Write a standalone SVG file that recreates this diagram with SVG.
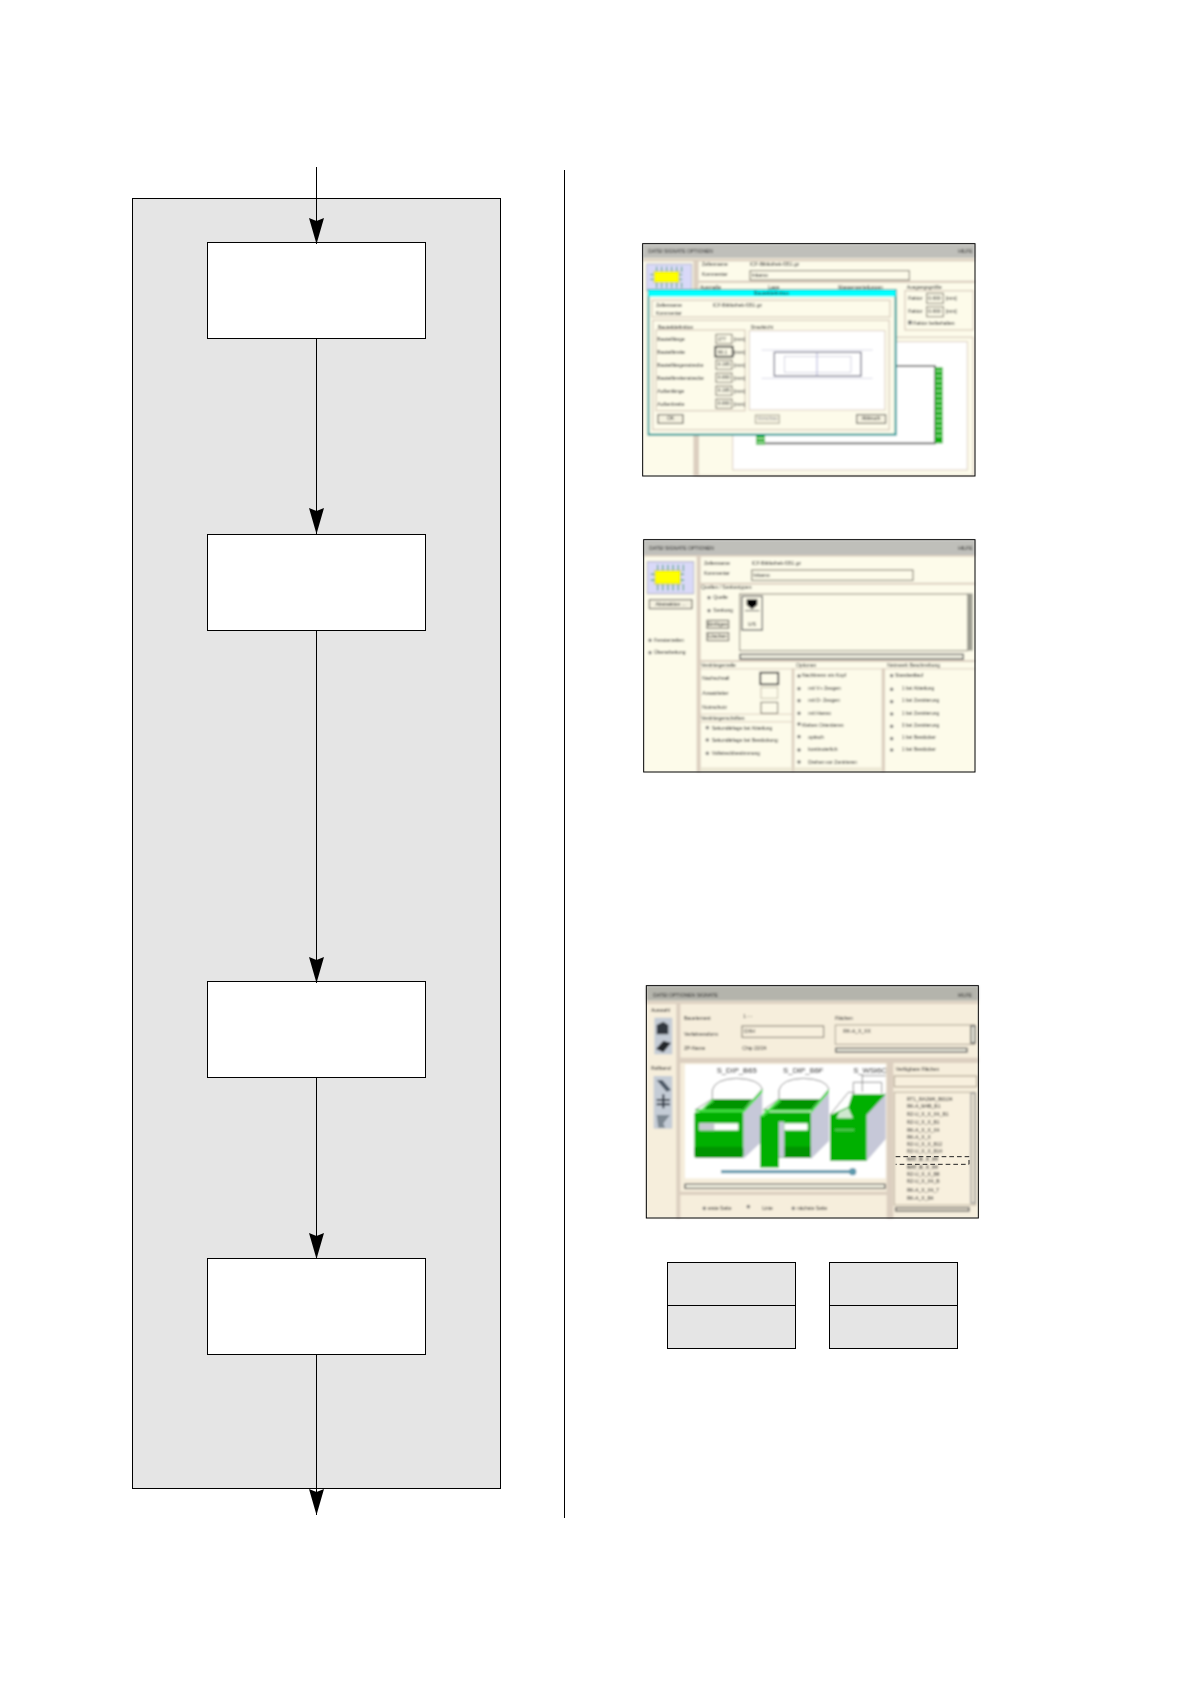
<svg xmlns="http://www.w3.org/2000/svg" width="1188" height="1684" viewBox="0 0 1188 1684">
<style>
.panel{fill:#e5e5e5;stroke:#000;stroke-width:1}
.box{fill:#fff;stroke:#000;stroke-width:1}
.line{fill:none;stroke:#000;stroke-width:1}
.arrow{fill:none;stroke:#000;stroke-width:1;marker-end:url(#head)}
.frame{fill:none;stroke:#000;stroke-width:3}
.t{font-family:"Liberation Sans",Arial,sans-serif;font-size:15px;fill:#1c1c1c}
.h{font-family:"Liberation Sans",Arial,sans-serif;font-size:23px;fill:#000;text-anchor:middle}
.sep{fill:#dccfc0}
.grp{fill:none;stroke:#dccfc0;stroke-width:4}
.in{fill:#fdfbea;stroke:#7a7468;stroke-width:3}
.btn{fill:#f4f1e0;stroke:#55524a;stroke-width:3}
.sb{fill:#efeee0;stroke:#555;stroke-width:4}
.pin{stroke:#2f9a6a;stroke-width:3;fill:none}
.r{fill:#999;stroke:#444;stroke-width:2}
.g1{fill:#00b000}
.g2{fill:#009400}
.g3{fill:#3fe03f}
.gs{fill:#c6c8d8}
.o{fill:#fff;stroke:#777;stroke-width:2.5}
.ol{fill:none;stroke:#777;stroke-width:2.5}
</style>
<defs>
<marker id="head" markerUnits="userSpaceOnUse" markerWidth="27" markerHeight="16" refX="26" refY="7.5" orient="auto"><path d="M26,7.5 L0,0 L3,7.5 L0,15 Z" fill="#000"/></marker>
<filter id="blur" x="-2%" y="-2%" width="104%" height="104%"><feGaussianBlur stdDeviation="2.6"/></filter>
<filter id="blur2" x="-2%" y="-2%" width="104%" height="104%"><feGaussianBlur stdDeviation="2.4"/></filter>
<g id="chip">
<rect x="0" y="0" width="135" height="80" fill="#d9d9f8" stroke="#b9b9cc" stroke-width="3"/>
<path class="pin" d="M30,8V24M45,8V24M60,8V24M75,8V24M90,8V24M105,8V24M30,56V72M45,56V72M60,56V72M75,56V72M90,56V72M105,56V72M10,32H25M10,46H25M92,32H107M92,46H107"/>
<rect x="22" y="22" width="75" height="34" fill="#ffff00" stroke="#b8b800" stroke-width="2"/>
</g>
</defs>
<rect width="1188" height="1684" fill="#fff"/>

<g id="process-area"><rect class="panel" x="132.5" y="198.5" width="368" height="1290"/></g>
<g id="step-1"><rect class="box" x="207.5" y="242.5" width="218" height="96"/></g>
<g id="step-2"><rect class="box" x="207.5" y="534.5" width="218" height="96"/></g>
<g id="step-3"><rect class="box" x="207.5" y="981.5" width="218" height="96"/></g>
<g id="step-4"><rect class="box" x="207.5" y="1258.5" width="218" height="96"/></g>

<g id="connectors">
<path class="arrow" d="M316.5,167V244"/>
<path class="arrow" d="M316.5,338.5V534"/>
<path class="arrow" d="M316.5,630.5V983"/>
<path class="arrow" d="M316.5,1077.5V1259"/>
<path class="arrow" d="M316.5,1354.5V1515"/>
</g>
<g id="divider"><path class="line" d="M564.5,170V1518"/></g>

<g id="legend-left"><rect class="panel" x="667.5" y="1262.5" width="128" height="86"/><path class="line" d="M667.5,1305.5H795.5"/></g>
<g id="legend-right"><rect class="panel" x="829.5" y="1262.5" width="128" height="86"/><path class="line" d="M829.5,1305.5H957.5"/></g>

<!-- Screenshot 1 -->
<g id="screenshot-1" transform="translate(630,230) scale(.33333)">
<g filter="url(#blur)">
<rect x="38" y="42" width="997" height="695" fill="#fdfbea"/>
<rect x="38" y="42" width="997" height="42" fill="#bfbfba"/>
<text class="t" x="55" y="69">DATEI  SIGNATE  OPTIONEN</text><text class="t" x="985" y="69">HILFE</text>
<rect class="sep" x="190" y="88" width="16" height="650"/>
<rect class="sep" x="38" y="86" width="997" height="8"/>
<rect class="sep" x="198" y="152" width="837" height="7"/>
<use href="#chip" x="50" y="102"/>
<text class="t" x="215" y="108">Zellenname</text><text class="t" x="360" y="108">ICF-Bibliothek-f351.gz</text>
<text class="t" x="215" y="137">Kommentar</text>
<rect class="in" x="360" y="122" width="478" height="28"/><text class="t" x="365" y="141">Inkamo</text>
<text class="t" x="210" y="176">Ausmaße</text><text class="t" x="415" y="176">Lage</text><text class="t" x="625" y="176">Massenverteilungen</text><text class="t" x="830" y="176">Ausgangsgröße</text>
<rect class="grp" x="825" y="182" width="205" height="118"/>
<text class="t" x="835" y="211">Faktor</text><rect class="in" x="890" y="190" width="50" height="30"/><text class="t" x="895" y="209">0.000</text><text class="t" x="947" y="211">[mm]</text>
<text class="t" x="835" y="250">Faktor</text><rect class="in" x="890" y="230" width="50" height="30"/><text class="t" x="895" y="249">0.000</text><text class="t" x="947" y="250">[mm]</text>
<rect class="r" x="836" y="273" width="9" height="9"/><text class="t" x="850" y="285">Faktor beibehalten</text>
<rect class="grp" x="205" y="322" width="825" height="415"/>
<rect x="308" y="335" width="704" height="385" fill="#fff" stroke="#dccfc0" stroke-width="3"/>
<path d="M795,408H915V640H405" fill="none" stroke="#555" stroke-width="5"/>
<rect x="915" y="412" width="23" height="228" fill="#0fae0f"/>
<path d="M918,423H936M918,438H936M918,453H936M918,468H936M918,483H936M918,498H936M918,513H936M918,528H936M918,543H936M918,558H936M918,573H936M918,588H936M918,603H936M918,618H936" stroke="#e6f8e6" stroke-width="3"/>
<rect x="378" y="612" width="27" height="32" fill="#0fae0f"/>
<path d="M380,625H404M380,637H404" stroke="#e6f8e6" stroke-width="3"/>
<rect x="55" y="180" width="742" height="434" fill="#fdfbea" stroke="#0f9494" stroke-width="6"/>
<rect x="55" y="180" width="742" height="20" fill="#00ffff"/>
<text class="t" x="425" y="196" text-anchor="middle">Bauteildefinition</text>
<rect class="grp" x="66" y="211" width="714" height="50"/>
<text class="t" x="78" y="232">Zellenname</text><text class="t" x="248" y="232">ICF-Bibliothek-f351.gz</text><text class="t" x="78" y="255">Kommentar</text>
<rect class="grp" x="68" y="271" width="710" height="328"/>
<text class="t" x="84" y="296">Bauteildefinition</text><text class="t" x="362" y="296">Draufsicht</text>
<rect class="grp" x="78" y="300" width="267" height="242"/>
<rect x="358" y="302" width="407" height="238" fill="#fff" stroke="#dccfc0" stroke-width="3"/>
<g>
<text class="t" x="82" y="333">Bauteillänge</text><rect class="in" x="258" y="313" width="48" height="28"/><text class="t" x="263" y="332">277</text><text class="t" x="312" y="332">[mm]</text>
<text class="t" x="82" y="372">Bauteilbreite</text><rect x="256" y="350" width="52" height="30" fill="#fdfbea" stroke="#222" stroke-width="5"/><text class="t" x="263" y="371">90.1</text><text class="t" x="312" y="372">[mm]</text>
<text class="t" x="82" y="410">Bauteillängenstrecke</text><rect class="in" x="258" y="390" width="48" height="28"/><text class="t" x="263" y="409">0.195</text><text class="t" x="312" y="410">[mm]</text>
<text class="t" x="82" y="449">Bauteilbreitenstrecke</text><rect class="in" x="258" y="429" width="48" height="28"/><text class="t" x="263" y="448">0.000</text><text class="t" x="312" y="449">[mm]</text>
<text class="t" x="82" y="488">Außenlänge</text><rect class="in" x="258" y="468" width="48" height="28"/><text class="t" x="263" y="487">0.195</text><text class="t" x="312" y="488">[mm]</text>
<text class="t" x="82" y="527">Außenbreite</text><rect class="in" x="258" y="507" width="48" height="28"/><text class="t" x="263" y="526">0.000</text><text class="t" x="312" y="527">[mm]</text>
</g>
<path d="M395,360H728M395,445H728" stroke="#c8c8dc" stroke-width="2" fill="none"/>
<path d="M561,367V438" stroke="#8c8cc8" stroke-width="2" fill="none"/>
<rect x="433" y="367" width="260" height="71" fill="none" stroke="#77778a" stroke-width="4"/>
<rect x="463" y="380" width="200" height="48" fill="none" stroke="#c0c0d4" stroke-width="2"/>
<rect class="btn" x="84" y="554" width="75" height="26"/><text class="t" x="122" y="571" text-anchor="middle">OK</text>
<rect class="btn" x="376" y="555" width="72" height="25" style="stroke:#a8a494"/><text class="t" x="412" y="571" text-anchor="middle" style="fill:#999">Vorschau</text>
<rect class="btn" x="680" y="554" width="87" height="26"/><text class="t" x="723" y="571" text-anchor="middle">Abbruch</text>
</g>
<rect class="frame" x="38" y="41" width="997" height="697"/>
</g>

<!-- Screenshot 2 -->
<g id="screenshot-2" transform="translate(630,530) scale(.33333)">
<g filter="url(#blur)">
<rect x="41" y="30" width="994" height="696" fill="#fdfbea"/>
<rect x="41" y="30" width="994" height="46" fill="#bfbfba"/>
<text class="t" x="58" y="60">DATEI  SIGNATE  OPTIONEN</text><text class="t" x="985" y="60">HILFE</text>
<rect class="sep" x="200" y="78" width="12" height="648"/>
<rect class="sep" x="41" y="75" width="994" height="5"/>
<g transform="translate(52,95) scale(1.03,1.2)"><use href="#chip"/></g>
<rect class="btn" x="58" y="209" width="128" height="27"/><text class="t" x="122" y="227" text-anchor="middle">Abstraktion ...</text>
<circle class="r" cx="60" cy="331" r="4"/><text class="t" x="72" y="335">Fensterzeilen</text>
<circle class="r" cx="60" cy="368" r="4"/><text class="t" x="72" y="372">Überarbeitung</text>
<text class="t" x="222" y="104">Zellenname</text><text class="t" x="365" y="104">ICF-Bibliothek-f351.gz</text>
<text class="t" x="222" y="136">Kommentar</text><rect class="in" x="365" y="120" width="484" height="31"/><text class="t" x="370" y="141">Inkamo</text>
<rect class="sep" x="208" y="158" width="827" height="6"/>
<text class="t" x="213" y="178">Quellen / Senkentypen</text>
<circle class="r" cx="237" cy="203" r="4"/><text class="t" x="250" y="207">Quelle</text>
<circle class="r" cx="237" cy="242" r="4"/><text class="t" x="250" y="246">Senkung</text>
<rect class="btn" x="231" y="271" width="65" height="24"/><text class="t" x="263" y="288" text-anchor="middle">Einfügen</text>
<rect class="btn" x="231" y="308" width="65" height="24"/><text class="t" x="263" y="325" text-anchor="middle">Löschen</text>
<rect x="329" y="192" width="684" height="170" fill="#fdfbea" stroke="#8a8478" stroke-width="3"/>
<rect x="1011" y="190" width="17" height="172" fill="#9c9c90"/>
<rect x="336" y="199" width="61" height="101" fill="#fdfbea" stroke="#666" stroke-width="4"/>
<path d="M350,208H382V225L366,238L350,225Z" fill="#000"/>
<path d="M345,242H388" stroke="#555" stroke-width="3"/>
<text class="t" x="366" y="289" text-anchor="middle">U/S</text>
<rect class="sb" x="330" y="373" width="670" height="14"/>
<rect class="sep" x="208" y="390" width="827" height="6"/>
<text class="t" x="213" y="412">Verdrängerzelle</text><text class="t" x="498" y="412">Optionen</text><text class="t" x="772" y="412">Netzwerk Beschreibung</text>
<rect class="sep" x="208" y="415" width="827" height="3"/>
<rect class="sep" x="485" y="415" width="8" height="311"/>
<rect class="sep" x="755" y="415" width="10" height="311"/>
<rect class="sep" x="208" y="551" width="278" height="3"/>
<rect class="sep" x="208" y="574" width="278" height="3"/>
<text class="t" x="217" y="449">Nachschnall</text><rect x="391" y="428" width="54" height="35" fill="#fdfbea" stroke="#333" stroke-width="5"/>
<text class="t" x="217" y="494">Ansatzleiter</text><rect x="393" y="472" width="50" height="33" fill="#fdfbea" stroke="#c6c0ae" stroke-width="3"/>
<text class="t" x="217" y="538">Nutzschutz</text><rect class="in" x="393" y="517" width="50" height="33"/>
<text class="t" x="213" y="569">Verdrängerschriften</text>
<circle class="r" cx="232" cy="593" r="4"/><text class="t" x="245" y="600">Sekundärlage bei Abteilung</text>
<circle class="r" cx="232" cy="630" r="4"/><text class="t" x="245" y="637">Sekundärlage bei Bestückung</text>
<circle class="r" cx="232" cy="670" r="4"/><text class="t" x="245" y="674">Vollstreckbestimmung</text>
<g>
<circle class="r" cx="507" cy="438" r="4"/><text class="t" x="516" y="442">Nachbrenn ein Kopf</text>
<circle class="r" cx="507" cy="476" r="4"/><text class="t" x="535" y="480">mit V+ Zeugen</text>
<circle class="r" cx="507" cy="512" r="4"/><text class="t" x="535" y="516">mit D- Zeugen</text>
<circle class="r" cx="507" cy="550" r="4"/><text class="t" x="535" y="554">mit Hanno</text>
<circle class="r" cx="507" cy="582" r="4"/><text class="t" x="516" y="591">Kleben Orientieren</text>
<circle class="r" cx="507" cy="620" r="4"/><text class="t" x="535" y="626">optisch</text>
<circle class="r" cx="507" cy="660" r="4"/><text class="t" x="535" y="664">kontinuierlich</text>
<circle class="r" cx="507" cy="696" r="4"/><text class="t" x="535" y="701">Drehen vor Zentrieren</text>
</g>
<g>
<circle class="r" cx="785" cy="437" r="4"/><text class="t" x="795" y="441">Standardlauf</text>
<circle class="r" cx="785" cy="478" r="4"/><text class="t" x="815" y="480">1 bei Abteilung</text>
<circle class="r" cx="785" cy="515" r="4"/><text class="t" x="815" y="517">1 bei Zentrierung</text>
<circle class="r" cx="785" cy="552" r="4"/><text class="t" x="815" y="554">1 bei Zentrierung</text>
<circle class="r" cx="785" cy="589" r="4"/><text class="t" x="815" y="591">3 bei Zentrierung</text>
<circle class="r" cx="785" cy="626" r="4"/><text class="t" x="815" y="628">1 bei Bestücker</text>
<circle class="r" cx="785" cy="660" r="4"/><text class="t" x="815" y="664">1 bei Bestücker</text>
</g>
<rect x="212" y="712" width="273" height="14" fill="#ece8d4"/><rect x="493" y="712" width="262" height="14" fill="#ece8d4"/>
</g>
<rect class="frame" x="41" y="29" width="994" height="697"/>
</g>

<!-- Screenshot 3 -->
<g id="screenshot-3" transform="translate(635,975) scale(.33333)">
<g filter="url(#blur2)">
<rect x="34" y="33" width="996" height="696" fill="#f6eedc"/>
<rect x="34" y="33" width="996" height="44" fill="#b4b4ac"/>
<text class="t" x="55" y="65">DATEI  OPTIONEN  SIGNATE</text><text class="t" x="968" y="65">HILFE</text>
<rect class="sep" x="124" y="85" width="12" height="645"/>
<rect class="sep" x="34" y="79" width="996" height="8"/>
<text class="t" x="48" y="112">Auswahl</text>
<rect x="58" y="128" width="54" height="110" fill="#c4ccd6"/>
<path d="M65,178V150L85,140L100,150V178Z" fill="#33383f"/>
<path d="M63,222L85,197L108,204L85,232Z" fill="#22262c"/>
<text class="t" x="48" y="285">Rollband</text>
<rect x="56" y="303" width="56" height="158" fill="#c4ccd6"/>
<path d="M65,315L82,315L108,345L95,350Z" fill="#4c5866"/>
<path d="M65,375H105M65,388H105M85,358V400" stroke="#2c3440" stroke-width="6" fill="none"/>
<path d="M65,420H105L85,445L90,458H70Z" fill="#7d8892"/>
<text class="t" x="147" y="136">Bauelement</text><text class="t" x="325" y="130">1 - -</text>
<text class="t" x="147" y="182">Verfahrensform</text>
<rect class="in" x="321" y="153" width="245" height="34" style="fill:#f8f0de"/><text class="t" x="328" y="175">DXH</text>
<text class="t" x="147" y="226">ZP-Name</text><text class="t" x="322" y="226">Chip 22/24</text>
<text class="t" x="600" y="136">Flächen</text>
<rect x="601" y="150" width="418" height="58" fill="#f8f0de" stroke="#a8a090" stroke-width="3"/><text class="t" x="625" y="174">RK-A_X_XX</text>
<rect class="sb" x="1008" y="152" width="12" height="52"/>
<rect class="sb" x="602" y="220" width="394" height="11"/>
<rect class="sep" x="130" y="248" width="900" height="16"/>
<rect x="150" y="268" width="602" height="342" fill="#fff"/>
<!-- block 1 -->
<path class="gs" d="M325,405L382,340V498L325,552Z"/>
<path class="o" d="M232,372V345Q240,312 305,310Q372,312 382,342L325,405H180Z"/>
<path class="g2" d="M205,405L232,372H352L325,405Z"/>
<path class="g3" d="M178,422L232,372L238,378L200,405H325V415H178Z"/>
<rect class="g1" x="178" y="412" width="147" height="134" rx="6"/>
<rect class="g2" x="178" y="515" width="147" height="34" rx="6"/>
<rect class="g3" x="182" y="403" width="140" height="6"/>
<rect x="193" y="445" width="117" height="21" fill="#fff"/><rect x="193" y="445" width="45" height="21" fill="#c6c8d0"/>
<path class="g3" d="M325,405L382,342V352L325,415Z"/>
<!-- block 2 -->
<path class="gs" d="M528,405L582,340V498L528,552Z"/>
<path class="o" d="M432,372V345Q440,312 505,310Q572,312 582,342L528,405H385Z"/>
<path class="g2" d="M408,405L432,372H555L528,405Z"/>
<rect class="g1" x="385" y="412" width="143" height="134" rx="4"/>
<rect class="g2" x="432" y="515" width="96" height="34"/>
<rect class="g3" x="388" y="403" width="138" height="6"/>
<path class="gs" d="M432,440H448V548H432Z"/>
<rect x="448" y="445" width="70" height="21" fill="#fff"/>
<rect class="g1" x="375" y="422" width="57" height="156"/>
<path class="g3" d="M375,425L432,372L438,378L385,425Z"/>
<path class="g3" d="M528,405L582,342V352L528,415Z"/>
<!-- block 3 -->
<path class="gs" d="M695,418L752,352V492L695,558Z"/>
<path class="ol" d="M655,358V322H740V355M682,300V350M680,302H752"/>
<path class="g1" d="M652,358H752L695,420V558H585V420L640,395Z"/>
<path class="ol" d="M585,420L640,352H660"/>
<path d="M612,412L640,398L654,430H605Z" fill="#d0e8d0"/>
<path d="M600,465H658" stroke="#9fe09f" stroke-width="3"/>
<text class="h" x="305" y="293">S_DIP_B65</text><text class="h" x="505" y="293">S_DIP_B6F</text><text class="h" x="705" y="293">S_WSI6C</text>
<path d="M258,590H655" stroke="#5d99ad" stroke-width="10"/>
<circle cx="653" cy="590" r="11" fill="#5d99ad"/>
<rect class="sb" x="150" y="628" width="600" height="12" style="fill:#fdfbea"/>
<rect class="sep" x="132" y="650" width="640" height="10"/>
<rect class="sep" x="755" y="264" width="20" height="466"/>
<circle class="r" cx="208" cy="700" r="4"/><text class="t" x="218" y="704">erste Seite</text>
<circle class="r" cx="340" cy="695" r="4"/><text class="t" x="382" y="704">Linie</text>
<circle class="r" cx="475" cy="700" r="4"/><text class="t" x="486" y="704">nächste Seite</text>
<text class="t" x="782" y="288">Verfügbare Flächen</text>
<rect x="778" y="303" width="247" height="32" fill="#f8f0de" stroke="#b8ad9a" stroke-width="4"/>
<rect x="778" y="352" width="244" height="338" fill="#f8f0de" stroke="#b8ad9a" stroke-width="3"/>
<rect class="sb" x="1008" y="354" width="12" height="330" style="fill:#f0e8d6;stroke:#999"/>
<rect class="sb" x="782" y="698" width="220" height="10" style="fill:#f0e8d6"/>
<g>
<text class="t" x="815" y="377">RT1_RA2M4_B0104</text>
<text class="t" x="815" y="400">RK-A_M4B_B1</text>
<text class="t" x="815" y="424">RZ-U_X_X_X4_B1</text>
<text class="t" x="815" y="447">RZ-U_X_X_B1</text>
<text class="t" x="815" y="470">RK-A_X_X_X4</text>
<text class="t" x="815" y="491">RK-A_X_X</text>
<text class="t" x="815" y="512">RZ-U_X_X_B12</text>
<text class="t" x="815" y="534">RZ-U_X_X_B14</text>
<text class="t" x="815" y="558" font-weight="bold">NAT_B_X_X4</text>
<text class="t" x="815" y="581" font-weight="bold">NAT_B_X_X4</text>
<text class="t" x="815" y="602">RZ-U_X_X_B8</text>
<text class="t" x="815" y="625">RZ-U_X_X4_B</text>
<text class="t" x="815" y="650">RK-A_X_X4_T</text>
<text class="t" x="815" y="675">RK-A_X_B4</text>
</g>
</g>
<path d="M782,545H1002V568H782" fill="none" stroke="#222" stroke-width="3" stroke-dasharray="14 9"/>
<rect class="frame" x="34" y="32" width="996" height="697"/>
</g>
</svg>
